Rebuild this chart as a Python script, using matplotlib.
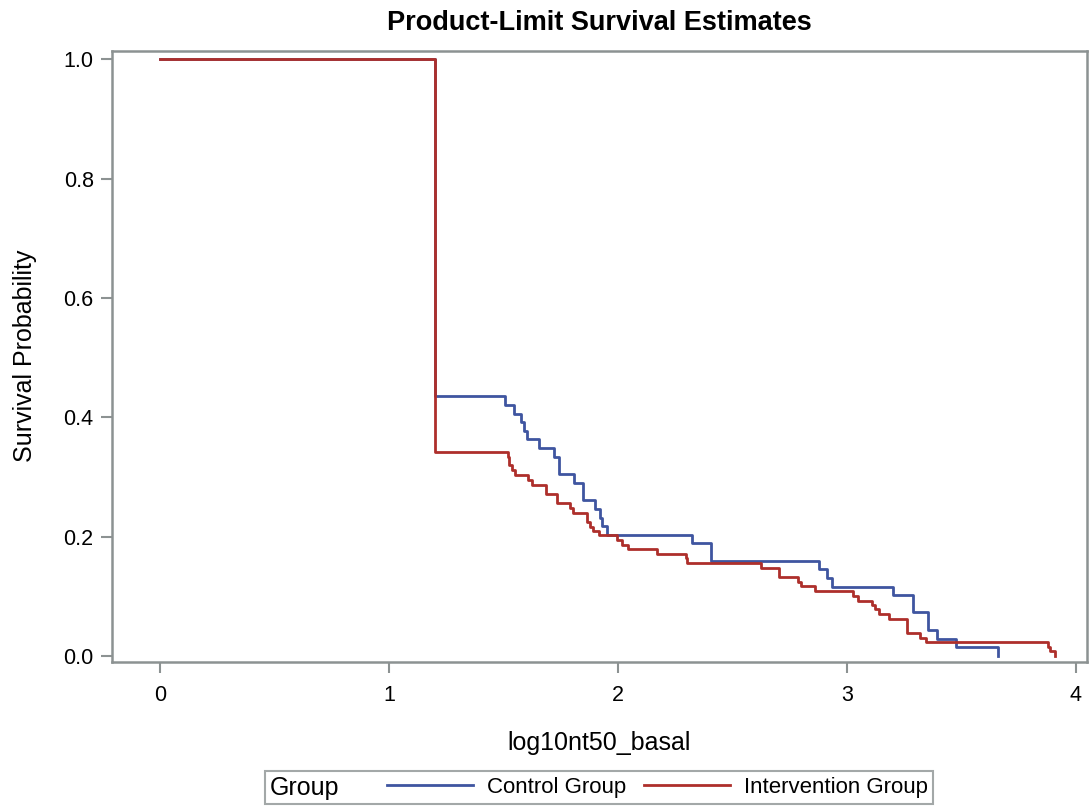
import matplotlib
matplotlib.use("Agg")
import matplotlib.pyplot as plt
from matplotlib.lines import Line2D
from matplotlib.offsetbox import HPacker

plt.rcParams['font.family'] = ['Liberation Sans', 'DejaVu Sans']

# Control group Kaplan-Meier steps
control_time = [0, 1.20, 1.508, 1.544, 1.576, 1.587, 1.601, 1.653, 1.722, 1.741,
                1.809, 1.846, 1.897, 1.919, 1.930, 1.952, 2.324, 2.404, 2.876,
                2.912, 2.934, 3.201, 3.288, 3.354, 3.393, 3.475, 3.660]
control_surv = [1.0, 0.435, 0.421, 0.406, 0.392, 0.377, 0.363, 0.348, 0.334, 0.305,
                0.290, 0.261, 0.247, 0.232, 0.218, 0.203, 0.189, 0.160, 0.145,
                0.131, 0.116, 0.102, 0.073, 0.044, 0.029, 0.015, 0.0]

# Intervention group Kaplan-Meier steps
interv_time = [0, 1.20, 1.518, 1.525, 1.535, 1.550, 1.608, 1.625, 1.686, 1.734,
               1.791, 1.805, 1.863, 1.878, 1.892, 1.916, 1.994, 2.015, 2.042,
               2.171, 2.295, 2.302, 2.625, 2.701, 2.787, 2.801, 2.862, 3.026,
               3.048, 3.110, 3.121, 3.140, 3.182, 3.262, 3.317, 3.344, 3.878,
               3.888, 3.909]
interv_surv = [1.0, 0.342, 0.334, 0.320, 0.312, 0.303, 0.295, 0.286, 0.272, 0.256,
               0.248, 0.240, 0.225, 0.217, 0.209, 0.202, 0.194, 0.186, 0.179,
               0.171, 0.164, 0.156, 0.148, 0.132, 0.124, 0.117, 0.109, 0.101,
               0.093, 0.085, 0.078, 0.070, 0.062, 0.039, 0.031, 0.023, 0.015,
               0.008, 0.0]

x_ticks = [0, 1, 2, 3, 4]
y_ticks = [0.0, 0.2, 0.4, 0.6, 0.8, 1.0]
y_ticklabels = ['0.0', '0.2', '0.4', '0.6', '0.8', '1.0']

BLUE = '#3F55A0'
RED = '#AE2F2B'
GRAY = '#8C9292'

fig = plt.figure(figsize=(10.9, 8.06), dpi=100)
ax = fig.add_axes([0.1025, 0.179, 0.8945, 0.758])

ax.step(control_time, control_surv, where='post', color=BLUE, lw=2.0, zorder=3,
        label='Control Group')
ax.step(interv_time, interv_surv, where='post', color=RED, lw=2.0, zorder=4,
        label='Intervention Group')

ax.set_xlim(-0.212, 4.047)
ax.set_ylim(-0.0096, 1.0144)
ax.set_xticks(x_ticks)
ax.set_yticks(y_ticks)
ax.set_yticklabels(y_ticklabels)

for s in ax.spines.values():
    s.set_color(GRAY)
    s.set_linewidth(1.8)
ax.tick_params(axis='both', direction='out', length=8, width=1.5, color=GRAY,
               labelsize=15.5, labelcolor='black')
ax.tick_params(axis='x', pad=9)
ax.tick_params(axis='y', pad=5)

ax.set_xlabel('log10nt50_basal', fontsize=18, labelpad=18)
ax.set_ylabel('Survival Probability', fontsize=18, labelpad=19)
ax.set_title('Product-Limit Survival Estimates', fontsize=19.5, fontweight='bold', pad=15)

handles = [Line2D([], [], color=BLUE, lw=2.0), Line2D([], [], color=RED, lw=2.0)]
leg = fig.legend(handles, ['Control Group', 'Intervention Group'], title='Group',
                 ncol=2, loc='center', bbox_to_anchor=(0.5495, 0.0229),
                 fontsize=16, title_fontsize=18, frameon=True, fancybox=False,
                 edgecolor=GRAY, handlelength=3.9, handletextpad=0.6,
                 columnspacing=0.8, borderpad=0.22, borderaxespad=0)
leg.get_frame().set_linewidth(1.5)
try:
    old = leg._legend_box
    newbox = HPacker(pad=old.pad, sep=34, align='center',
                     children=[leg._legend_title_box, leg._legend_handle_box])
    newbox.set_figure(fig)
    newbox.set_offset(leg._findoffset)
    leg._legend_box = newbox
except Exception:
    pass

fig.savefig('out.png', dpi=100, facecolor='white')
